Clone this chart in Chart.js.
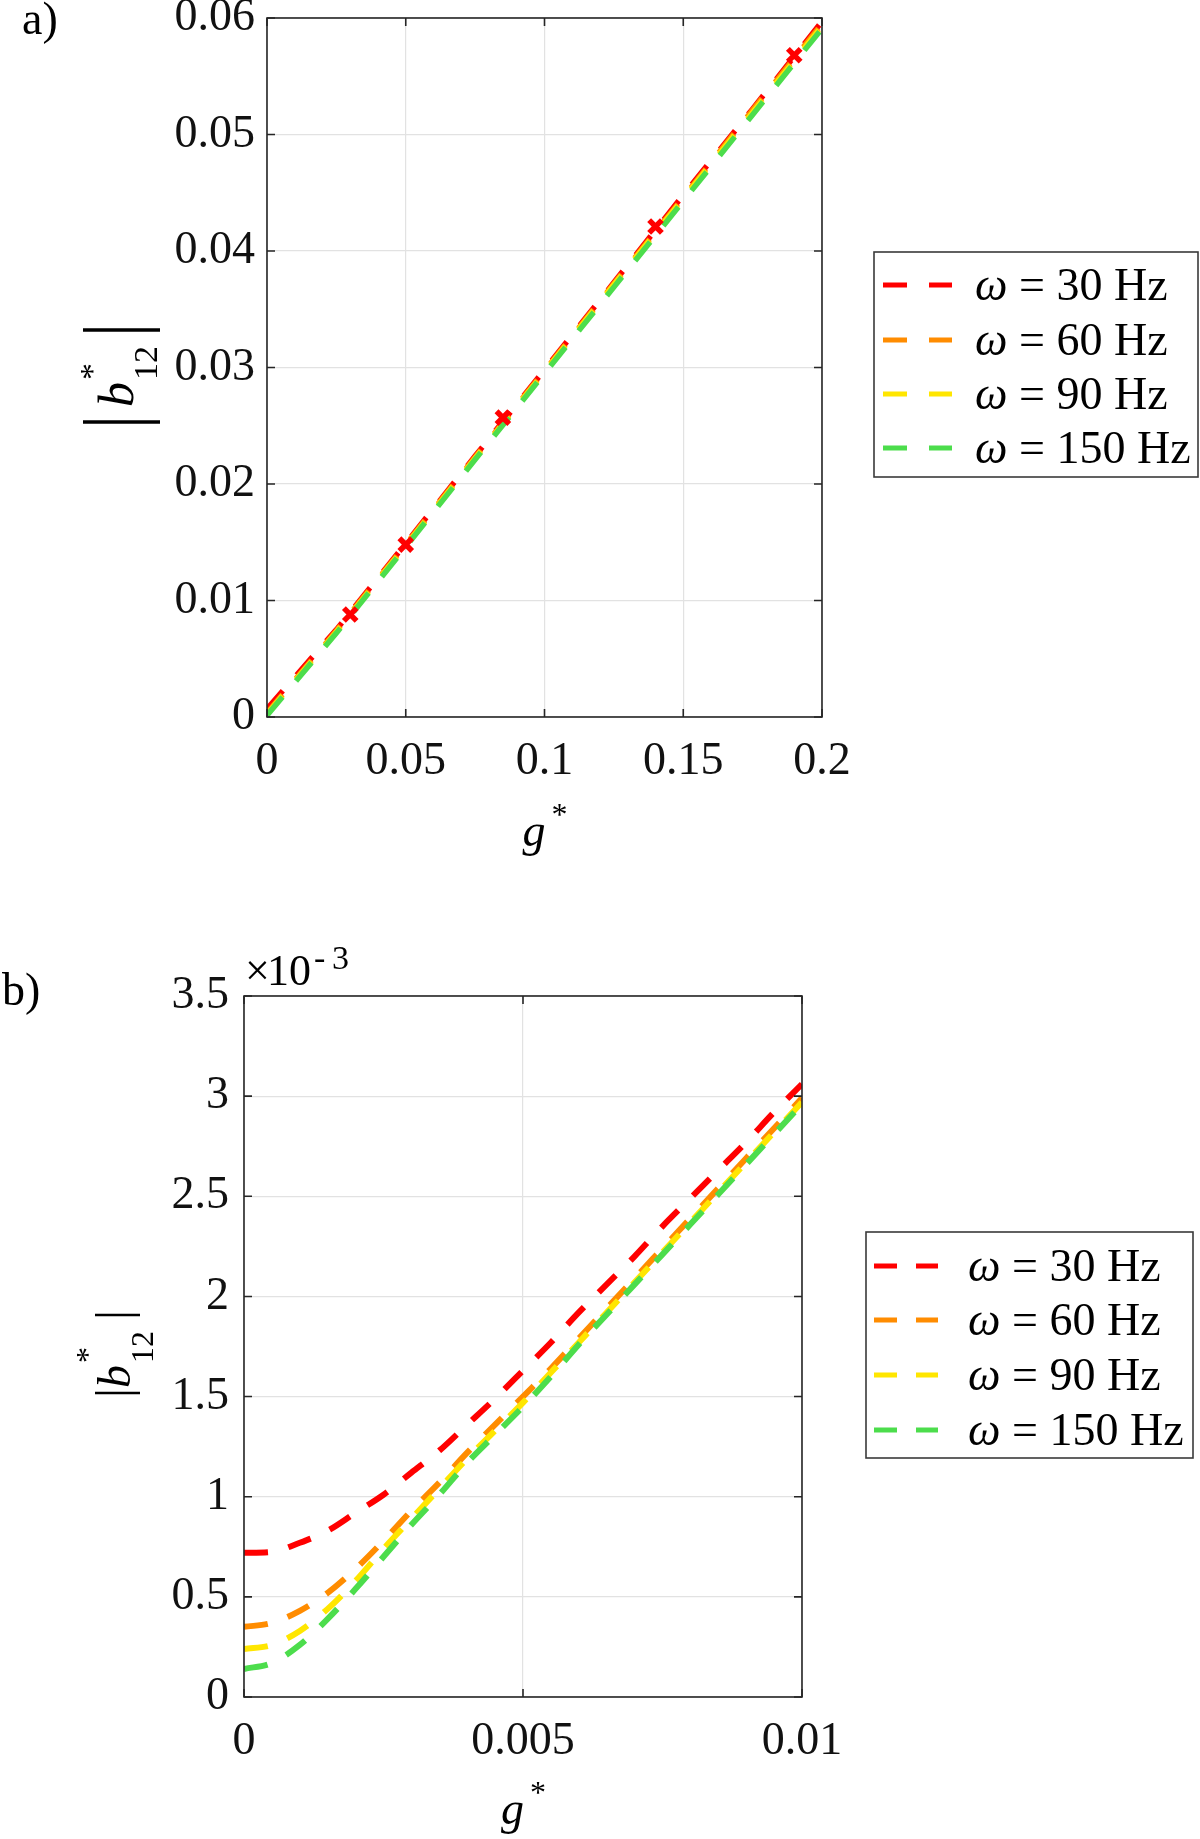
<!DOCTYPE html>
<html>
<head>
<meta charset="utf-8">
<script src="https://cdn.jsdelivr.net/npm/chart.js@4.4.1/dist/chart.umd.min.js"></script>
<style>
  html, body { margin: 0; padding: 0; background: #fff; }
  body { width: 1200px; height: 1839px; position: relative; overflow: hidden; }
  .panel { position: absolute; left: 0; width: 1200px; }
  #boxA { top: 0; height: 880px; }
  #boxB { top: 900px; height: 939px; }
</style>
</head>
<body>
<div class="panel" id="boxA"><canvas id="chartA"></canvas></div>
<div class="panel" id="boxB"><canvas id="chartB"></canvas></div>
<script>
// ---- panel a ----
const gA = [0, 0.025, 0.05, 0.075, 0.1, 0.125, 0.15, 0.175, 0.2];
const b30A = [0.0007, 0.0075, 0.0149, 0.0224, 0.0298, 0.0373, 0.0448, 0.0522, 0.0597];
const b60A = [0.00035, 0.0074, 0.0148, 0.0223, 0.0297, 0.0372, 0.0446, 0.0521, 0.0595];
const b90A = [0.00024, 0.0073, 0.0147, 0.0222, 0.0296, 0.0371, 0.0445, 0.0519, 0.0593];
const b150A = [0.00014, 0.0072, 0.0146, 0.0221, 0.0295, 0.0369, 0.0443, 0.0517, 0.0591];
const gMeasA = [0.03, 0.05, 0.085, 0.14, 0.19];
const bMeasA = [0.0088, 0.0148, 0.0257, 0.0421, 0.0568];
const xTicksA = [0, 0.05, 0.1, 0.15, 0.2];
const xLabelsA = ['0', '0.05', '0.1', '0.15', '0.2'];
const yTicksA = [0, 0.01, 0.02, 0.03, 0.04, 0.05, 0.06];
const yLabelsA = ['0', '0.01', '0.02', '0.03', '0.04', '0.05', '0.06'];

// ---- panel b (values x 10^-3) ----
const gB = [0, 0.0005, 0.001, 0.0015, 0.002, 0.0025, 0.003, 0.0035, 0.004, 0.0045, 0.005,
            0.0055, 0.006, 0.0065, 0.007, 0.0075, 0.008, 0.0085, 0.009, 0.0095, 0.01];
const b30B = [0.72, 0.725, 0.77, 0.83, 0.92, 1.01, 1.12, 1.23, 1.36, 1.49, 1.63,
              1.77, 1.92, 2.06, 2.20, 2.35, 2.49, 2.63, 2.77, 2.92, 3.06];
const b60B = [0.35, 0.37, 0.43, 0.52, 0.64, 0.78, 0.93, 1.07, 1.22, 1.36, 1.50,
              1.64, 1.79, 1.94, 2.09, 2.24, 2.39, 2.54, 2.69, 2.84, 2.99];
const b90B = [0.24, 0.26, 0.33, 0.44, 0.58, 0.74, 0.89, 1.04, 1.19, 1.33, 1.47,
              1.62, 1.77, 1.92, 2.07, 2.22, 2.37, 2.52, 2.67, 2.82, 2.97];
const b150B = [0.14, 0.17, 0.26, 0.39, 0.54, 0.70, 0.86, 1.01, 1.17, 1.31, 1.45,
               1.60, 1.76, 1.91, 2.06, 2.21, 2.36, 2.51, 2.66, 2.81, 2.96];
const xTicksB = [0, 0.005, 0.01];
const xLabelsB = ['0', '0.005', '0.01'];
const yTicksB = [0, 0.5, 1, 1.5, 2, 2.5, 3, 3.5];
const yLabelsB = ['0', '0.5', '1', '1.5', '2', '2.5', '3', '3.5'];

const seriesLabels = ['ω = 30 Hz', 'ω = 60 Hz', 'ω = 90 Hz', 'ω = 150 Hz'];
const seriesColors = ['#ff0000', '#ff8c00', '#ffe600', '#4cdd4c'];

const FONT = '"Liberation Serif", "Times New Roman", serif';
const AXIS = '#262626';
const GRID = '#e2e2e2';

function pts(xs, ys) {
  return xs.map((x, i) => ({ x, y: ys[i] }));
}

// later series are drawn on top (green over red), like the original plot
function lineSets(xs, seriesList, width) {
  return seriesList.map((ys, i) => ({
    label: seriesLabels[i],
    data: pts(xs, ys),
    order: seriesList.length - i,
    borderColor: seriesColors[i],
    borderWidth: width,
    borderDash: [24, 21],
    pointRadius: 0,
    fill: false,
    cubicInterpolationMode: 'monotone',
  }));
}

function drawYTitle(ctx, t) {
  ctx.save();
  ctx.translate(t.x, t.y);
  ctx.rotate(-Math.PI / 2);
  ctx.fillStyle = '#000';
  ctx.strokeStyle = '#000';
  ctx.lineWidth = t.barWidth;
  ctx.textAlign = 'left';
  ctx.textBaseline = 'alphabetic';
  // |  |
  [-t.barX, t.barX].forEach(bx => {
    ctx.beginPath();
    ctx.moveTo(bx, t.barTop);
    ctx.lineTo(bx, t.barBottom);
    ctx.stroke();
  });
  ctx.font = `italic ${t.bSize}px ${FONT}`;
  ctx.fillText('b', t.bX, 0);
  const sx = t.bX + ctx.measureText('b').width + 2;
  ctx.font = `${t.sSize}px ${FONT}`;
  ctx.fillText('*', sx, t.supY);
  ctx.fillText('12', sx, t.subY);
  ctx.restore();
}

const decor = {
  id: 'decor',
  afterDraw(chart, args, o) {
    const { ctx, chartArea: a } = chart;
    const xs = chart.scales.x, ys = chart.scales.y;
    ctx.save();

    // inward ticks and box
    ctx.strokeStyle = AXIS;
    ctx.lineWidth = 1.6;
    ctx.beginPath();
    xs.ticks.forEach(t => {
      const px = xs.getPixelForValue(t.value);
      ctx.moveTo(px, a.bottom); ctx.lineTo(px, a.bottom - 8);
      ctx.moveTo(px, a.top); ctx.lineTo(px, a.top + 8);
    });
    ys.ticks.forEach(t => {
      const py = ys.getPixelForValue(t.value);
      ctx.moveTo(a.left, py); ctx.lineTo(a.left + 8, py);
      ctx.moveTo(a.right, py); ctx.lineTo(a.right - 8, py);
    });
    ctx.stroke();
    ctx.strokeRect(a.left, a.top, a.right - a.left, a.bottom - a.top);

    // panel letter
    ctx.fillStyle = '#000';
    ctx.textAlign = 'left';
    ctx.textBaseline = 'alphabetic';
    ctx.font = `46px ${FONT}`;
    ctx.fillText(o.letter, o.letterX, o.letterY);

    // x title g*
    const cx = (a.left + a.right) / 2;
    ctx.font = `italic 46px ${FONT}`;
    ctx.fillText('g', cx - 22, o.xTitleY);
    ctx.font = `32px ${FONT}`;
    ctx.fillText('*', cx + 7, o.xTitleY - 21);

    // y title |b*12|
    drawYTitle(ctx, o.yTitle);

    // exponent label  x10^-3
    if (o.exponent) {
      ctx.font = `44px ${FONT}`;
      ctx.fillText('×', a.left + 1, a.top - 11);
      ctx.fillText('10', a.left + 23, a.top - 11);
      ctx.font = `34px ${FONT}`;
      ctx.fillText('-', a.left + 70, a.top - 27);
      ctx.fillText('3', a.left + 88, a.top - 27);
    }

    // legend box
    const L = o.legend;
    ctx.strokeStyle = '#3a3a3a';
    ctx.lineWidth = 1.6;
    ctx.strokeRect(L.x0, L.y0, L.x1 - L.x0, L.y1 - L.y0);
    const entries = chart.data.datasets.filter(d => d.inLegend !== false);
    entries.forEach((d, i) => {
      const y = L.rows[i];
      ctx.strokeStyle = d.borderColor;
      ctx.lineWidth = 5;
      ctx.setLineDash(L.dash);
      ctx.beginPath();
      ctx.moveTo(L.lineX0, y);
      ctx.lineTo(L.lineX1, y);
      ctx.stroke();
      ctx.setLineDash([]);
      ctx.fillStyle = '#000';
      ctx.font = `italic 46px ${FONT}`;
      const sym = d.label.charAt(0);
      ctx.fillText(sym, L.textX, y + 15);
      const sw = ctx.measureText(sym).width;
      ctx.font = `46px ${FONT}`;
      ctx.fillText(d.label.slice(1), L.textX + sw, y + 15);
    });

    ctx.restore();
  }
};

function axis(min, max, tickVals, tickLabels, pad, fitFn) {
  return {
    type: 'linear',
    min, max,
    grid: { color: GRID, lineWidth: 1.2, drawTicks: false },
    border: { display: false },
    ticks: {
      font: { family: FONT, size: 46 },
      color: '#111',
      padding: pad,
      autoSkip: false,
      maxRotation: 0,
      callback: (v, i) => tickLabels[i],
    },
    afterBuildTicks: s => { s.ticks = tickVals.map(v => ({ value: v })); },
    afterFit: fitFn,
  };
}

function makeChart(id, datasets, scales, padding, decorOpts) {
  return new Chart(document.getElementById(id), {
    type: 'line',
    data: { datasets },
    options: {
      responsive: true,
      maintainAspectRatio: false,
      animation: false,
      devicePixelRatio: 1,
      layout: { padding },
      scales,
      plugins: {
        legend: { display: false },
        tooltip: { enabled: false },
        decor: decorOpts,
      },
    },
    plugins: [decor],
  });
}

// chart a
const setsA = lineSets(gA, [b30A, b60A, b90A, b150A], 5.5);
setsA.forEach(d => { d.cubicInterpolationMode = 'default'; d.tension = 0; });
setsA.push({
  label: 'measured',
  inLegend: false,
  order: 0,
  data: pts(gMeasA, bMeasA),
  showLine: false,
  pointStyle: 'crossRot',
  pointRadius: 9,
  pointBorderWidth: 5.5,
  borderColor: '#ff0000',
  backgroundColor: '#ff0000',
});

makeChart('chartA', setsA, {
  x: axis(0, 0.2, xTicksA, xLabelsA, 17, s => { s.height = 163; s.paddingLeft = 0; s.paddingRight = 0; }),
  y: axis(0, 0.06, yTicksA, yLabelsA, 12, s => { s.width = 267; s.paddingTop = 0; s.paddingBottom = 0; }),
}, { left: 0, top: 18, right: 378, bottom: 0 }, {
  letter: 'a)', letterX: 22, letterY: 34,
  xTitleY: 846,
  yTitle: { x: 133, y: 376, barX: 46, barTop: -50, barBottom: 27, barWidth: 3.5,
            bSize: 50, bX: -31, sSize: 34, supY: -30, subY: 24 },
  legend: { x0: 874, y0: 252, x1: 1198, y1: 477, lineX0: 883, lineX1: 952, textX: 975,
            rows: [285, 340, 394, 448], dash: [24, 22] },
});

// chart b
const setsB = lineSets(gB, [b30B, b60B, b90B, b150B], 6);

makeChart('chartB', setsB, {
  x: axis(0, 0.01, xTicksB, xLabelsB, 17, s => { s.height = 142; s.paddingLeft = 0; s.paddingRight = 0; }),
  y: axis(0, 3.5, yTicksB, yLabelsB, 15, s => { s.width = 244; s.paddingTop = 0; s.paddingBottom = 0; }),
}, { left: 0, top: 96, right: 398, bottom: 0 }, {
  letter: 'b)', letterX: 2, letterY: 105,
  xTitleY: 924,
  exponent: true,
  yTitle: { x: 130, y: 454, barX: 39, barTop: -35, barBottom: 10, barWidth: 2.6,
            bSize: 46, bX: -34, sSize: 32, supY: -32, subY: 23 },
  legend: { x0: 866, y0: 332, x1: 1193, y1: 558, lineX0: 874, lineX1: 938, textX: 968,
            rows: [366, 420, 475, 530], dash: [23, 19] },
});
</script>
</body>
</html>
